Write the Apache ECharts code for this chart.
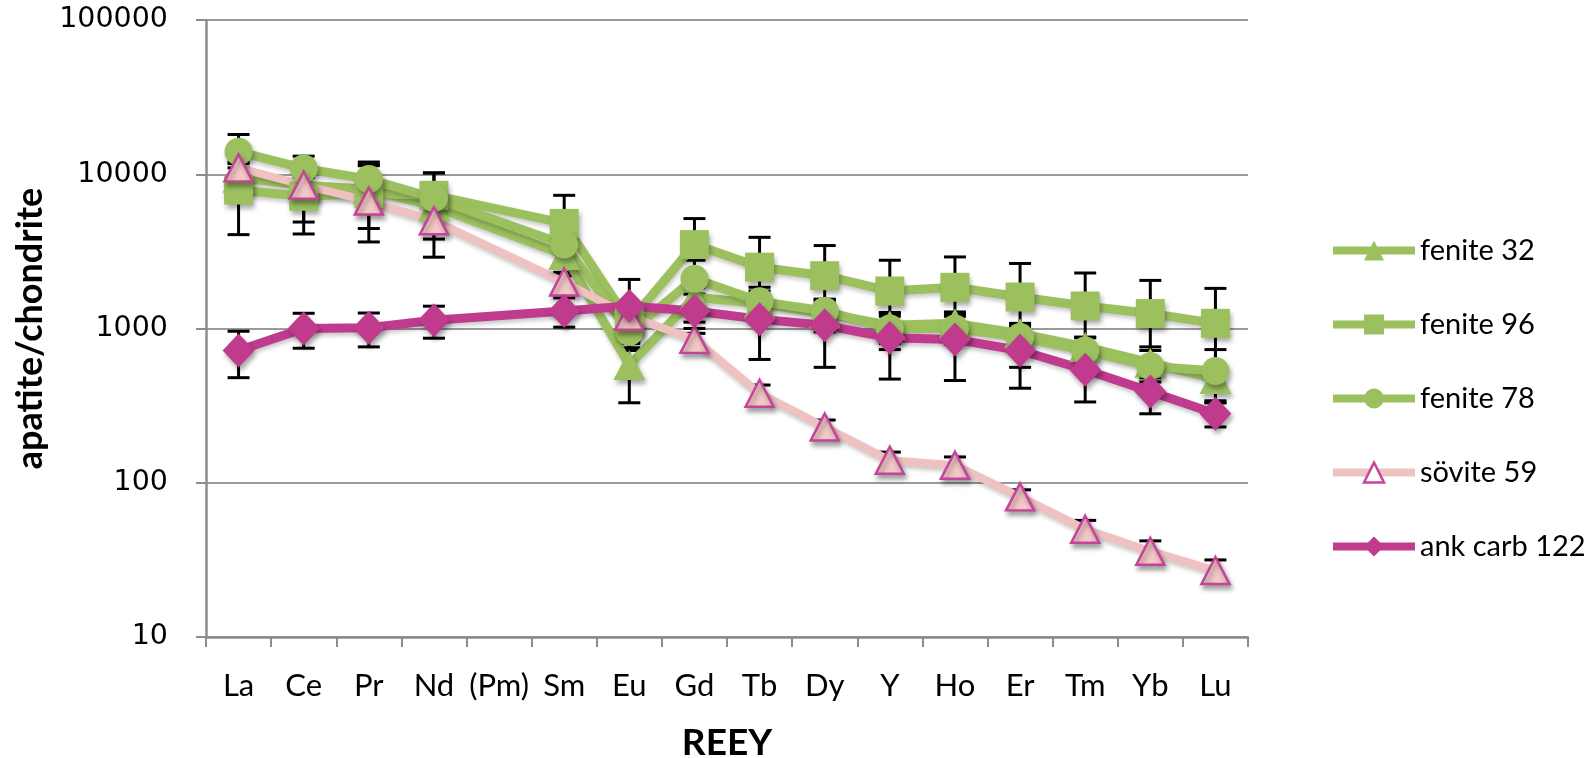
<!DOCTYPE html>
<html>
<head>
<meta charset="utf-8">
<script src="https://cdn.jsdelivr.net/npm/echarts@6/dist/echarts.min.js"></script>
<style>
  html, body { margin: 0; padding: 0; background: #ffffff; }
  #chart { width: 1593px; height: 758px; }
</style>
</head>
<body>
<div id="chart"></div>
<script>
// REEY element order along the x axis; (Pm) has no analyses
const categories = ['La', 'Ce', 'Pr', 'Nd', '(Pm)', 'Sm', 'Eu', 'Gd', 'Tb', 'Dy', 'Y', 'Ho', 'Er', 'Tm', 'Yb', 'Lu'];
const yTickLabels = ['10', '100', '1000', '10000', '100000'];

// Chondrite-normalised apatite compositions and their ± error values
const fenite32      = [9500, 8500, 8000, 6200, null, 3000, 580, 1600, 1450, 1250, 1050, 1080, 930, 760, 600, 470];
const fenite32Err   = [1500, 3600, 3550, 2000, null, 800, 250, 500, 300, 250, 200, 200, 150, 120, 120, 80];
const fenite96      = [7900, 7200, 7500, 7300, null, 4800, 1100, 3500, 2500, 2200, 1750, 1850, 1600, 1400, 1250, 1080];
const fenite96Err   = [3840, 3100, 3860, 2900, null, 2500, 300, 1660, 1400, 1250, 1020, 1060, 1040, 890, 800, 740];
const fenite78      = [14000, 10900, 9300, 7000, null, 3500, 950, 2100, 1500, 1300, 1000, 1000, 880, 720, 570, 530];
const fenite78Err   = [4100, 2200, 2700, 3200, null, 900, 200, 670, 350, 250, 200, 200, 180, 150, 190, 200];
const sovite59      = [11000, 8500, 6700, 5000, null, 2000, 1200, 850, 380, 230, 140, 130, 81, 50, 36, 27];
const sovite59Err   = [1000, 1000, 900, 2100, null, 300, 200, 150, 50, 25, 18, 17, 9, 7, 6, 4.6];
const ankCarb122    = [720, 1000, 1010, 1130, null, 1300, 1400, 1300, 1150, 1050, 870, 850, 720, 540, 390, 280];
const ankCarb122Err = [240, 255, 250, 265, null, 280, 680, 370, 520, 490, 400, 390, 310, 206, 110, 50];

const GREEN = '#9cc05e';
const MAGENTA = '#c03a8e';
const PINK_LINE = '#efc2c1';
const PINK_FILL = '#f3c8c6';
const PINK_EDGE = '#c5449a';
const TEXT_FONT = 'Lato, "Open Sans", sans-serif';

const markerShadow = {
  shadowColor: 'rgba(0,0,0,0.35)', shadowBlur: 5, shadowOffsetX: 2, shadowOffsetY: 4
};
const lineShadow = {
  shadowColor: 'rgba(0,0,0,0.22)', shadowBlur: 4, shadowOffsetX: 1, shadowOffsetY: 3
};

// Vertical error bars with end caps, drawn through the chart's own axes
function errorBars(name, values, errs) {
  const data = [];
  values.forEach(function (v, i) {
    if (v != null && errs[i] != null) data.push([i, v - errs[i], v + errs[i]]);
  });
  return {
    type: 'custom',
    name: name + ' error',
    silent: true,
    z: 1,
    encode: { x: 0, y: [1, 2] },
    data: data,
    renderItem: function (params, api) {
      const x = api.value(0);
      const lo = api.coord([x, api.value(1)]);
      const hi = api.coord([x, api.value(2)]);
      const half = 11;
      const style = { stroke: '#000000', lineWidth: 3, fill: null };
      return {
        type: 'group',
        children: [
          { type: 'line', shape: { x1: lo[0], y1: lo[1], x2: hi[0], y2: hi[1] }, style: style },
          { type: 'line', shape: { x1: lo[0] - half, y1: lo[1], x2: lo[0] + half, y2: lo[1] }, style: style },
          { type: 'line', shape: { x1: hi[0] - half, y1: hi[1], x2: hi[0] + half, y2: hi[1] }, style: style }
        ]
      };
    }
  };
}

function lineSeries(name, values, opts) {
  return {
    type: 'line',
    name: name,
    data: values,
    connectNulls: true,
    z: 2,
    symbol: opts.symbol,
    symbolSize: opts.size,
    showAllSymbol: true,
    lineStyle: Object.assign({ color: opts.lineColor, width: opts.width }, lineShadow),
    itemStyle: Object.assign({
      color: opts.fill,
      borderColor: opts.edge || opts.fill,
      borderWidth: opts.edgeWidth || 0
    }, markerShadow),
    emphasis: { disabled: true },
    animation: false
  };
}

const chart = echarts.init(document.getElementById('chart'), null, { renderer: 'canvas' });

chart.setOption({
  backgroundColor: '#ffffff',
  animation: false,
  grid: { left: 206, right: 345, top: 20, bottom: 121, containLabel: false, outerBoundsMode: 'none' },
  xAxis: {
    type: 'category',
    data: categories,
    boundaryGap: true,
    axisLine: { lineStyle: { color: '#8c8c8c', width: 2.5 } },
    axisTick: { show: true, length: 10, interval: 0, lineStyle: { color: '#8c8c8c', width: 2 } },
    axisLabel: { interval: 0, margin: 33, color: '#000000', fontFamily: TEXT_FONT, fontSize: 31 },
    splitLine: { show: false },
    name: 'REEY',
    nameLocation: 'middle',
    nameGap: 88,
    nameTextStyle: { color: '#000000', fontFamily: TEXT_FONT, fontWeight: 'bold', fontSize: 37 }
  },
  yAxis: {
    type: 'log',
    logBase: 10,
    min: 10,
    max: 100000,
    axisLine: { show: true, lineStyle: { color: '#8c8c8c', width: 2.5 } },
    axisTick: { show: true, length: 10, lineStyle: { color: '#8c8c8c', width: 2 } },
    minorTick: { show: false },
    splitLine: { show: true, lineStyle: { color: '#9a9a9a', width: 2 } },
    axisLabel: {
      margin: 38,
      color: '#000000',
      fontFamily: '"DejaVu Sans", Verdana, sans-serif',
      fontSize: 28.5,
      formatter: function (v) {
        const idx = Math.round(Math.log10(v)) - 1;
        return yTickLabels[idx] !== undefined ? yTickLabels[idx] : '';
      }
    },
    name: 'apatite/chondrite',
    nameLocation: 'middle',
    nameRotate: 90,
    nameGap: 149,
    nameTextStyle: { color: '#000000', fontFamily: TEXT_FONT, fontWeight: 'bold', fontSize: 36 }
  },
  legend: {
    orient: 'vertical',
    left: 1324,
    top: 231,
    itemWidth: 82,
    itemHeight: 25,
    itemGap: 45,
    selectedMode: false,
    textStyle: { color: '#000000', fontFamily: TEXT_FONT, fontSize: 29 },
    lineStyle: { width: 8 },
    data: [
      { name: 'fenite 32' },
      { name: 'fenite 96' },
      { name: 'fenite 78' },
      { name: 'sövite 59', itemStyle: { color: '#ffffff', borderColor: PINK_EDGE, borderWidth: 2.5 } },
      { name: 'ank carb 122' }
    ]
  },
  series: [
    errorBars('fenite 32', fenite32, fenite32Err),
    errorBars('fenite 96', fenite96, fenite96Err),
    errorBars('fenite 78', fenite78, fenite78Err),
    errorBars('sövite 59', sovite59, sovite59Err),
    errorBars('ank carb 122', ankCarb122, ankCarb122Err),
    lineSeries('fenite 32', fenite32, { symbol: 'triangle', size: [32, 30], fill: GREEN, lineColor: GREEN, width: 9 }),
    lineSeries('fenite 96', fenite96, { symbol: 'rect', size: 29, fill: GREEN, lineColor: GREEN, width: 9 }),
    lineSeries('fenite 78', fenite78, { symbol: 'circle', size: 28, fill: GREEN, lineColor: GREEN, width: 9 }),
    lineSeries('sövite 59', sovite59, { symbol: 'triangle', size: [28, 27], fill: PINK_FILL, edge: PINK_EDGE, edgeWidth: 2.5, lineColor: PINK_LINE, width: 8 }),
    lineSeries('ank carb 122', ankCarb122, { symbol: 'diamond', size: [32, 34], fill: MAGENTA, lineColor: MAGENTA, width: 9 })
  ]
});
</script>
</body>
</html>
